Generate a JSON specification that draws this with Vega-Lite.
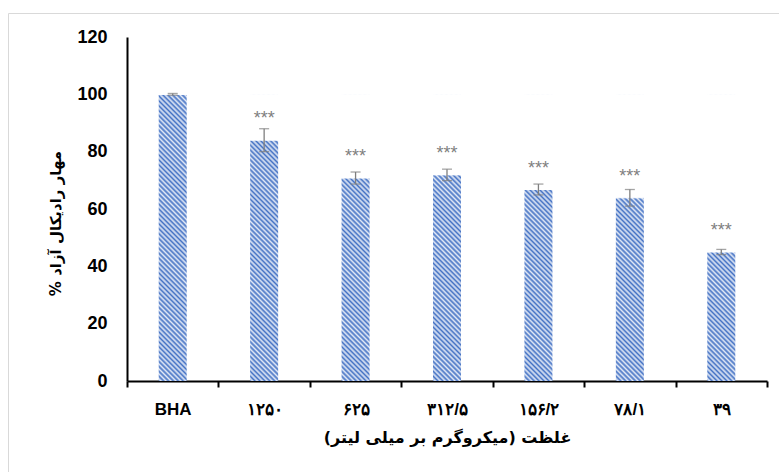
{
  "$schema": "https://vega.github.io/schema/vega-lite/v6.json",
  "width": 771,
  "height": 459,
  "autosize": "none",
  "padding": {"left": 8, "top": 13, "right": 0, "bottom": 0},
  "background": "white",
  "data": {
    "values": [
      {"dose": "BHA", "value": 100, "sd": 0.3, "sig": ""},
      {"dose": "۱۲۵۰", "value": 84, "sd": 4, "sig": "***"},
      {"dose": "۶۲۵", "value": 70.8, "sd": 2.1, "sig": "***"},
      {"dose": "۳۱۲/۵", "value": 71.9, "sd": 2, "sig": "***"},
      {"dose": "۱۵۶/۲", "value": 66.8, "sd": 1.9, "sig": "***"},
      {"dose": "۷۸/۱", "value": 63.9, "sd": 2.9, "sig": "***"},
      {"dose": "۳۹", "value": 45, "sd": 0.9, "sig": "***"}
    ]
  },
  "encoding": {
    "x": {
      "field": "dose",
      "type": "nominal",
      "sort": null,
      "scale": {"type": "band", "range": [119, 759], "paddingInner": 0, "paddingOuter": 0},
      "axis": {
        "title": "غلظت (میکروگرم بر میلی لیتر)",
        "offset": -91,
        "labelAngle": 0,
        "labelFont": "Liberation Sans",
        "labelFontSize": 17,
        "labelFontWeight": "bold",
        "labelColor": "black",
        "labelPadding": 14,
        "tickBand": "extent",
        "tickSize": 6,
        "tickWidth": 2,
        "tickColor": "black",
        "domainColor": "black",
        "domainWidth": 2,
        "grid": false,
        "titleFont": "DejaVu Sans",
        "titleFontSize": 16,
        "titleFontWeight": "bold",
        "titleColor": "black",
        "titleY": 56,
        "titleBaseline": "middle"
      }
    }
  },
  "layer": [
    {
      "mark": {
        "type": "bar",
        "width": 28,
        "fill": {
          "gradient": "linear",
          "x1": 0, "y1": 1, "x2": 0.1065, "y2": -0.0875,
          "stops": [
            {"offset": 0, "color": "#4472c4"},
            {"offset": 0.0078, "color": "#e2e9f6"},
            {"offset": 0.0156, "color": "#4472c4"},
            {"offset": 0.0234, "color": "#e2e9f6"},
            {"offset": 0.0313, "color": "#4472c4"},
            {"offset": 0.0391, "color": "#e2e9f6"},
            {"offset": 0.0469, "color": "#4472c4"},
            {"offset": 0.0547, "color": "#e2e9f6"},
            {"offset": 0.0625, "color": "#4472c4"},
            {"offset": 0.0703, "color": "#e2e9f6"},
            {"offset": 0.0781, "color": "#4472c4"},
            {"offset": 0.0859, "color": "#e2e9f6"},
            {"offset": 0.0938, "color": "#4472c4"},
            {"offset": 0.1016, "color": "#e2e9f6"},
            {"offset": 0.1094, "color": "#4472c4"},
            {"offset": 0.1172, "color": "#e2e9f6"},
            {"offset": 0.125, "color": "#4472c4"},
            {"offset": 0.1328, "color": "#e2e9f6"},
            {"offset": 0.1406, "color": "#4472c4"},
            {"offset": 0.1484, "color": "#e2e9f6"},
            {"offset": 0.1563, "color": "#4472c4"},
            {"offset": 0.1641, "color": "#e2e9f6"},
            {"offset": 0.1719, "color": "#4472c4"},
            {"offset": 0.1797, "color": "#e2e9f6"},
            {"offset": 0.1875, "color": "#4472c4"},
            {"offset": 0.1953, "color": "#e2e9f6"},
            {"offset": 0.2031, "color": "#4472c4"},
            {"offset": 0.2109, "color": "#e2e9f6"},
            {"offset": 0.2188, "color": "#4472c4"},
            {"offset": 0.2266, "color": "#e2e9f6"},
            {"offset": 0.2344, "color": "#4472c4"},
            {"offset": 0.2422, "color": "#e2e9f6"},
            {"offset": 0.25, "color": "#4472c4"},
            {"offset": 0.2578, "color": "#e2e9f6"},
            {"offset": 0.2656, "color": "#4472c4"},
            {"offset": 0.2734, "color": "#e2e9f6"},
            {"offset": 0.2813, "color": "#4472c4"},
            {"offset": 0.2891, "color": "#e2e9f6"},
            {"offset": 0.2969, "color": "#4472c4"},
            {"offset": 0.3047, "color": "#e2e9f6"},
            {"offset": 0.3125, "color": "#4472c4"},
            {"offset": 0.3203, "color": "#e2e9f6"},
            {"offset": 0.3281, "color": "#4472c4"},
            {"offset": 0.3359, "color": "#e2e9f6"},
            {"offset": 0.3438, "color": "#4472c4"},
            {"offset": 0.3516, "color": "#e2e9f6"},
            {"offset": 0.3594, "color": "#4472c4"},
            {"offset": 0.3672, "color": "#e2e9f6"},
            {"offset": 0.375, "color": "#4472c4"},
            {"offset": 0.3828, "color": "#e2e9f6"},
            {"offset": 0.3906, "color": "#4472c4"},
            {"offset": 0.3984, "color": "#e2e9f6"},
            {"offset": 0.4063, "color": "#4472c4"},
            {"offset": 0.4141, "color": "#e2e9f6"},
            {"offset": 0.4219, "color": "#4472c4"},
            {"offset": 0.4297, "color": "#e2e9f6"},
            {"offset": 0.4375, "color": "#4472c4"},
            {"offset": 0.4453, "color": "#e2e9f6"},
            {"offset": 0.4531, "color": "#4472c4"},
            {"offset": 0.4609, "color": "#e2e9f6"},
            {"offset": 0.4688, "color": "#4472c4"},
            {"offset": 0.4766, "color": "#e2e9f6"},
            {"offset": 0.4844, "color": "#4472c4"},
            {"offset": 0.4922, "color": "#e2e9f6"},
            {"offset": 0.5, "color": "#4472c4"},
            {"offset": 0.5078, "color": "#e2e9f6"},
            {"offset": 0.5156, "color": "#4472c4"},
            {"offset": 0.5234, "color": "#e2e9f6"},
            {"offset": 0.5313, "color": "#4472c4"},
            {"offset": 0.5391, "color": "#e2e9f6"},
            {"offset": 0.5469, "color": "#4472c4"},
            {"offset": 0.5547, "color": "#e2e9f6"},
            {"offset": 0.5625, "color": "#4472c4"},
            {"offset": 0.5703, "color": "#e2e9f6"},
            {"offset": 0.5781, "color": "#4472c4"},
            {"offset": 0.5859, "color": "#e2e9f6"},
            {"offset": 0.5938, "color": "#4472c4"},
            {"offset": 0.6016, "color": "#e2e9f6"},
            {"offset": 0.6094, "color": "#4472c4"},
            {"offset": 0.6172, "color": "#e2e9f6"},
            {"offset": 0.625, "color": "#4472c4"},
            {"offset": 0.6328, "color": "#e2e9f6"},
            {"offset": 0.6406, "color": "#4472c4"},
            {"offset": 0.6484, "color": "#e2e9f6"},
            {"offset": 0.6563, "color": "#4472c4"},
            {"offset": 0.6641, "color": "#e2e9f6"},
            {"offset": 0.6719, "color": "#4472c4"},
            {"offset": 0.6797, "color": "#e2e9f6"},
            {"offset": 0.6875, "color": "#4472c4"},
            {"offset": 0.6953, "color": "#e2e9f6"},
            {"offset": 0.7031, "color": "#4472c4"},
            {"offset": 0.7109, "color": "#e2e9f6"},
            {"offset": 0.7188, "color": "#4472c4"},
            {"offset": 0.7266, "color": "#e2e9f6"},
            {"offset": 0.7344, "color": "#4472c4"},
            {"offset": 0.7422, "color": "#e2e9f6"},
            {"offset": 0.75, "color": "#4472c4"},
            {"offset": 0.7578, "color": "#e2e9f6"},
            {"offset": 0.7656, "color": "#4472c4"},
            {"offset": 0.7734, "color": "#e2e9f6"},
            {"offset": 0.7813, "color": "#4472c4"},
            {"offset": 0.7891, "color": "#e2e9f6"},
            {"offset": 0.7969, "color": "#4472c4"},
            {"offset": 0.8047, "color": "#e2e9f6"},
            {"offset": 0.8125, "color": "#4472c4"},
            {"offset": 0.8203, "color": "#e2e9f6"},
            {"offset": 0.8281, "color": "#4472c4"},
            {"offset": 0.8359, "color": "#e2e9f6"},
            {"offset": 0.8438, "color": "#4472c4"},
            {"offset": 0.8516, "color": "#e2e9f6"},
            {"offset": 0.8594, "color": "#4472c4"},
            {"offset": 0.8672, "color": "#e2e9f6"},
            {"offset": 0.875, "color": "#4472c4"},
            {"offset": 0.8828, "color": "#e2e9f6"},
            {"offset": 0.8906, "color": "#4472c4"},
            {"offset": 0.8984, "color": "#e2e9f6"},
            {"offset": 0.9063, "color": "#4472c4"},
            {"offset": 0.9141, "color": "#e2e9f6"},
            {"offset": 0.9219, "color": "#4472c4"},
            {"offset": 0.9297, "color": "#e2e9f6"},
            {"offset": 0.9375, "color": "#4472c4"},
            {"offset": 0.9453, "color": "#e2e9f6"},
            {"offset": 0.9531, "color": "#4472c4"},
            {"offset": 0.9609, "color": "#e2e9f6"},
            {"offset": 0.9688, "color": "#4472c4"},
            {"offset": 0.9766, "color": "#e2e9f6"},
            {"offset": 0.9844, "color": "#4472c4"},
            {"offset": 0.9922, "color": "#e2e9f6"},
            {"offset": 1, "color": "#4472c4"}
          ]
        }
      },
      "encoding": {
        "y": {
          "datum": 0,
          "type": "quantitative",
          "title": "% مهار رادیکال آزاد",
          "scale": {"domain": [0, 120], "range": [368, 24], "nice": false, "zero": true},
          "axis": {
            "offset": -119,
            "values": [0, 20, 40, 60, 80, 100, 120],
            "ticks": false,
            "grid": false,
            "labelFont": "Liberation Sans",
            "labelFontSize": 18,
            "labelFontWeight": "bold",
            "labelColor": "black",
            "labelPadding": 20,
            "domainColor": "black",
            "domainWidth": 2,
            "titleFont": "DejaVu Sans",
            "titleFontSize": 15,
            "titleFontWeight": "bold",
            "titleColor": "black",
            "titleX": -72,
            "titleY": 210,
            "titleBaseline": "middle"
          }
        },
        "y2": {"datum": 100}
      }
    },
    {
      "mark": {"type": "bar", "width": 30, "fill": "white", "stroke": "white", "strokeWidth": 1},
      "encoding": {
        "y": {"field": "value", "type": "quantitative", "title": "% مهار رادیکال آزاد"},
        "y2": {"datum": 100}
      }
    },
    {
      "mark": {"type": "errorbar", "ticks": true, "size": 10, "thickness": 1.3, "color": "#7f7f7f"},
      "encoding": {
        "y": {"field": "value", "type": "quantitative", "title": "% مهار رادیکال آزاد"},
        "yError": {"field": "sd"}
      }
    },
    {
      "mark": {"type": "text", "baseline": "alphabetic", "dy": -16, "font": "Liberation Sans", "fontSize": 18, "color": "#7f7f7f"},
      "encoding": {
        "y": {"field": "value", "type": "quantitative", "title": "% مهار رادیکال آزاد"},
        "text": {"field": "sig"}
      }
    }
  ],
  "config": {
    "view": {"stroke": "#d9d9d9", "strokeWidth": 1}
  }
}
